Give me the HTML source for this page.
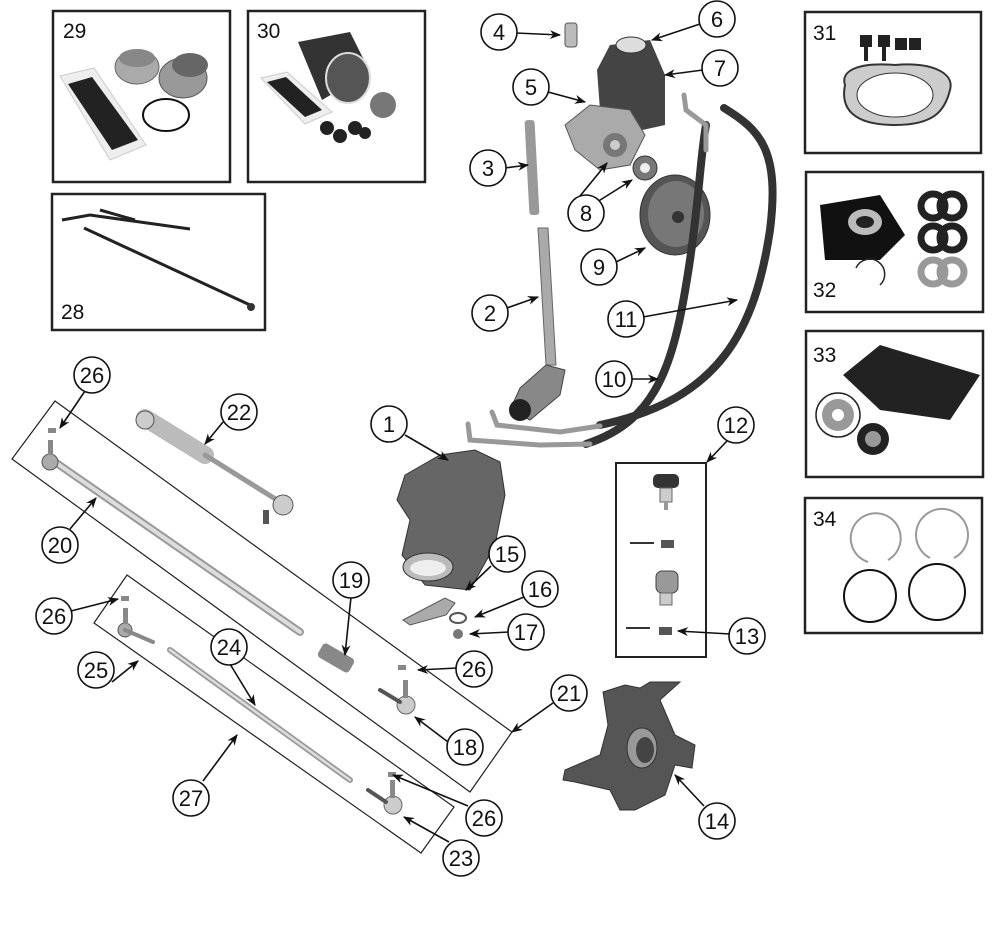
<!DOCTYPE html>
<html><head><meta charset="utf-8"><style>
html,body{margin:0;padding:0;background:#fff;}
svg{display:block}
text{font-family:"Liberation Sans",sans-serif;}
</style></head><body>
<svg width="1000" height="925" viewBox="0 0 1000 925" xmlns="http://www.w3.org/2000/svg">
<defs>
<marker id="a" viewBox="0 0 10 10" refX="9" refY="5" markerWidth="7" markerHeight="7" orient="auto-start-reverse"><path d="M0,1 L10,5 L0,9 L3,5z" fill="#111"/></marker>
<linearGradient id="g" x1="0" y1="0" x2="0" y2="1"><stop offset="0" stop-color="#bbb"/><stop offset="0.5" stop-color="#eee"/><stop offset="1" stop-color="#999"/></linearGradient>
</defs>
<g fill="none" stroke="#222" stroke-width="2.5">
<rect x="53" y="11" width="177" height="171"/>
<rect x="248" y="11" width="177" height="171"/>
<rect x="52" y="194" width="213" height="136"/>
<rect x="805" y="12" width="176" height="141"/>
<rect x="806" y="172" width="177" height="140"/>
<rect x="806" y="331" width="177" height="146"/>
<rect x="805" y="498" width="177" height="135"/>
<rect x="616" y="463" width="90" height="194" stroke-width="2"/>
</g>
<g fill="none" stroke="#222" stroke-width="1.2">
<polygon points="55,401 512,732 470,792 12,459"/>
<polygon points="127,575 454,807 421,853 94,623"/>
</g>
<g font-size="21" fill="#111">
<text x="63" y="38">29</text><text x="257" y="38">30</text><text x="61" y="319">28</text>
<text x="813" y="40">31</text><text x="813" y="297">32</text><text x="813" y="362">33</text><text x="813" y="526">34</text>
</g>
<!-- box contents -->
<g>
<polygon points="60,76 94,68 146,145 110,160" fill="#eee" stroke="#ccc"/>
<polygon points="68,84 92,77 138,140 112,150" fill="#222"/>
<ellipse cx="137" cy="67" rx="22" ry="17" fill="#aaa" stroke="#666"/><ellipse cx="137" cy="58" rx="18" ry="9" fill="#888"/>
<ellipse cx="183" cy="78" rx="24" ry="20" fill="#999" stroke="#555"/><ellipse cx="190" cy="65" rx="18" ry="12" fill="#666"/>
<ellipse cx="166" cy="115" rx="23" ry="16" fill="none" stroke="#111" stroke-width="2"/>
<polygon points="261,78 287,72 332,112 305,124" fill="#eee" stroke="#ccc"/>
<polygon points="267,82 286,77 322,110 305,117" fill="#222"/>
<polygon points="298,42 350,32 370,72 322,100" fill="#333"/><ellipse cx="348" cy="78" rx="22" ry="25" fill="#555" stroke="#ddd" stroke-width="2"/>
<ellipse cx="383" cy="105" rx="13" ry="13" fill="#777"/>
<g fill="#222"><circle cx="327" cy="128" r="7"/><circle cx="340" cy="136" r="7"/><circle cx="355" cy="128" r="7"/><circle cx="365" cy="133" r="6"/></g>
<g stroke="#222" stroke-width="3" fill="none"><path d="M62,220 L90,215 L140,222 L190,229"/><path d="M100,210 L135,220"/><path d="M84,228 L250,305"/></g>
<circle cx="251" cy="307" r="4" fill="#333"/>
<g fill="#222"><rect x="860" y="35" width="12" height="12"/><rect x="878" y="35" width="12" height="12"/><rect x="895" y="38" width="12" height="12"/><rect x="909" y="38" width="12" height="12"/><rect x="864" y="45" width="4" height="16"/><rect x="882" y="45" width="4" height="16"/></g>
<path d="M845,85 C840,70 860,62 895,65 C930,62 955,72 950,90 C945,110 935,125 895,125 C855,125 840,110 845,85z" fill="#ccc" stroke="#333" stroke-width="2"/>
<ellipse cx="895" cy="95" rx="38" ry="22" fill="#fff" stroke="#333"/>
<polygon points="820,205 880,195 905,235 880,260 825,260" fill="#111"/>
<ellipse cx="865" cy="222" rx="17" ry="13" fill="#bbb"/><ellipse cx="865" cy="222" rx="9" ry="6" fill="#222"/>
<path d="M856,268 A15,15 0 1,1 880,285" fill="none" stroke="#222" stroke-width="1.5"/>
<g fill="none" stroke-width="7"><circle cx="933" cy="206" r="12" stroke="#222"/><circle cx="952" cy="206" r="12" stroke="#222"/><circle cx="933" cy="238" r="12" stroke="#222"/><circle cx="952" cy="238" r="12" stroke="#222"/><circle cx="933" cy="272" r="12" stroke="#999"/><circle cx="952" cy="272" r="12" stroke="#999"/></g>
<polygon points="843,375 880,345 980,375 950,420 880,410" fill="#222"/>
<circle cx="838" cy="415" r="22" fill="none" stroke="#222" stroke-width="1.5"/><circle cx="838" cy="415" r="16" fill="#999"/><circle cx="838" cy="415" r="6" fill="#fff"/>
<circle cx="873" cy="439" r="16" fill="#222"/><circle cx="873" cy="439" r="8" fill="#999"/>
<g fill="none" stroke-width="2"><path d="M868,562 A25,25 0 1,1 888,560" stroke="#999"/><path d="M930,558 A26,26 0 1,1 954,558" stroke="#999"/><circle cx="870" cy="596" r="26" stroke="#111"/><circle cx="937" cy="592" r="28" stroke="#111"/></g>
<!-- ball joints box 12 -->
<rect x="653" y="474" width="26" height="14" rx="5" fill="#333"/><rect x="660" y="488" width="12" height="14" fill="#ccc" stroke="#666"/><rect x="664" y="502" width="4" height="8" fill="#999"/>
<rect x="656" y="571" width="22" height="22" rx="6" fill="#999" stroke="#444"/><rect x="660" y="593" width="12" height="12" fill="#ccc" stroke="#666"/>
<rect x="661" y="540" width="13" height="8" fill="#555"/><rect x="659" y="627" width="13" height="8" fill="#555"/>
<path d="M630,543 L654,543 M626,628 L650,628" stroke="#333" stroke-width="2"/>
</g>
<!-- pump parts -->
<g>
<rect x="565" y="23" width="12" height="24" rx="3" fill="#bbb" stroke="#555"/>
<path d="M597,70 L610,45 L650,40 L665,75 L665,125 L620,135 L600,110z" fill="#444"/>
<ellipse cx="631" cy="45" rx="15" ry="8" fill="#ddd" stroke="#333"/>
<path d="M565,125 L590,105 L630,110 L645,135 L630,165 L600,170 L575,150z" fill="#aaa" stroke="#555"/>
<circle cx="615" cy="145" r="12" fill="#777"/><circle cx="615" cy="145" r="5" fill="#ccc"/>
<circle cx="645" cy="168" r="12" fill="#777" stroke="#333"/><circle cx="645" cy="168" r="5" fill="#eee"/>
<ellipse cx="675" cy="215" rx="35" ry="40" fill="#555" stroke="#333"/><ellipse cx="676" cy="214" rx="28" ry="33" fill="#777"/>
<circle cx="678" cy="217" r="6" fill="#333"/>
<rect x="527" y="120" width="10" height="95" rx="3" fill="#999" transform="rotate(-3 532 168)"/>
<path d="M538,228 L548,228 L556,365 L546,365z" fill="#aaa" stroke="#666"/>
<path d="M546,365 L565,370 L560,395 L530,420 L510,410 L520,388z" fill="#888" stroke="#444"/>
<circle cx="520" cy="410" r="11" fill="#222"/>
</g>
<!-- hoses -->
<g fill="none" stroke-linecap="round">
<path d="M724,108 C760,130 780,150 770,230 C755,330 720,400 600,425" stroke="#333" stroke-width="8"/>
<path d="M706,125 C700,160 700,190 690,260 C675,360 660,420 586,444" stroke="#333" stroke-width="8"/>
<path d="M492,412 L497,425 L560,432 L600,426" stroke="#999" stroke-width="5"/>
<path d="M468,424 L470,440 L540,445 L590,444" stroke="#999" stroke-width="5"/>
<path d="M684,95 L686,110 L706,125 L706,150" stroke="#999" stroke-width="5"/>
</g>
<!-- gearbox -->
<path d="M405,475 L440,455 L475,450 L500,462 L505,495 L495,545 L470,590 L425,585 L402,555 L410,520 L397,500z" fill="#666" stroke="#333"/>
<ellipse cx="428" cy="567" rx="25" ry="14" fill="#bbb" stroke="#333"/><ellipse cx="428" cy="568" rx="18" ry="8" fill="#eee"/>
<!-- pitman arm etc -->
<path d="M403,620 L445,598 L455,603 L446,615 L410,625z" fill="#aaa" stroke="#555"/>
<ellipse cx="458" cy="618" rx="8" ry="5" fill="none" stroke="#555" stroke-width="2"/><circle cx="458" cy="634" r="5" fill="#777"/>
<!-- tie rods -->
<g stroke-linecap="round">
<path d="M55,462 L300,632" stroke="#999" stroke-width="8"/><path d="M55,462 L300,632" stroke="#ddd" stroke-width="4"/>
<circle cx="50" cy="462" r="8" fill="#aaa" stroke="#555"/><rect x="48" y="440" width="5" height="15" fill="#888"/>
<path d="M145,418 L205,455" stroke="#bbb" stroke-width="18"/><path d="M205,455 L285,505" stroke="#999" stroke-width="5"/>
<circle cx="145" cy="420" r="9" fill="#ccc" stroke="#555"/><circle cx="283" cy="505" r="10" fill="#ccc" stroke="#555"/><rect x="263" y="510" width="6" height="14" fill="#555"/>
<path d="M170,650 L350,780" stroke="#999" stroke-width="6"/><path d="M170,650 L350,780" stroke="#ddd" stroke-width="2.5"/>
<circle cx="125" cy="630" r="7" fill="#aaa" stroke="#555"/><path d="M125,630 L153,642" stroke="#888" stroke-width="4"/><rect x="123" y="608" width="5" height="16" fill="#888"/>
<rect x="318" y="650" width="36" height="16" rx="4" fill="#888" transform="rotate(30 336 658)"/>
<circle cx="406" cy="705" r="9" fill="#ccc" stroke="#666"/><path d="M380,690 L400,702" stroke="#555" stroke-width="4"/><rect x="403" y="680" width="5" height="18" fill="#888"/>
<circle cx="393" cy="805" r="9" fill="#ccc" stroke="#666"/><path d="M368,790 L386,802" stroke="#555" stroke-width="4"/><rect x="390" y="780" width="5" height="18" fill="#888"/>
</g>
<g fill="#888"><rect x="48" y="428" width="8" height="5"/><rect x="121" y="596" width="8" height="5"/><rect x="398" y="665" width="8" height="5"/><rect x="388" y="772" width="8" height="5"/></g>
<!-- knuckle -->
<path d="M603,692 L625,685 L640,688 L650,682 L680,682 L660,700 L675,735 L695,745 L692,768 L675,765 L665,795 L635,810 L620,810 L610,790 L575,782 L563,780 L565,770 L600,755 L608,725z" fill="#555" stroke="#333"/>
<ellipse cx="642" cy="748" rx="15" ry="20" fill="#999" stroke="#333"/><ellipse cx="645" cy="750" rx="9" ry="13" fill="#444"/>
<!-- leader lines -->
<g stroke="#111" stroke-width="1.6" fill="none" marker-end="url(#a)">
<line x1="516" y1="33" x2="560" y2="35"/>
<line x1="700" y1="24" x2="652" y2="40"/>
<line x1="703" y1="70" x2="665" y2="75"/>
<line x1="548" y1="92" x2="585" y2="102"/>
<line x1="505" y1="168" x2="528" y2="165"/>
<line x1="597" y1="202" x2="632" y2="180"/>
<line x1="580" y1="196" x2="607" y2="163"/>
<line x1="616" y1="262" x2="645" y2="248"/>
<line x1="507" y1="308" x2="538" y2="297"/>
<line x1="643" y1="317" x2="737" y2="300"/>
<line x1="631" y1="379" x2="658" y2="379"/>
<line x1="405" y1="435" x2="448" y2="460"/>
<line x1="727" y1="441" x2="707" y2="462"/>
<line x1="730" y1="634" x2="678" y2="631"/>
<line x1="491" y1="566" x2="466" y2="590"/>
<line x1="524" y1="597" x2="475" y2="617"/>
<line x1="509" y1="632" x2="470" y2="634"/>
<line x1="223" y1="422" x2="205" y2="444"/>
<line x1="85" y1="391" x2="60" y2="428"/>
<line x1="70" y1="529" x2="96" y2="498"/>
<line x1="351" y1="597" x2="345" y2="655"/>
<line x1="71" y1="611" x2="118" y2="599"/>
<line x1="230" y1="664" x2="255" y2="705"/>
<line x1="112" y1="682" x2="138" y2="661"/>
<line x1="457" y1="668" x2="418" y2="670"/>
<line x1="553" y1="703" x2="512" y2="732"/>
<line x1="448" y1="742" x2="415" y2="717"/>
<line x1="203" y1="781" x2="237" y2="735"/>
<line x1="468" y1="806" x2="393" y2="775"/>
<line x1="449" y1="842" x2="404" y2="817"/>
<line x1="704" y1="806" x2="675" y2="775"/>
</g>
<!-- callouts -->
<g font-size="22" fill="#111" text-anchor="middle">
<g fill="#fff" stroke="#111" stroke-width="1.6">
<circle cx="499" cy="32" r="18"/><circle cx="717" cy="19" r="18"/><circle cx="720" cy="68" r="18"/><circle cx="531" cy="87" r="18"/>
<circle cx="488" cy="168" r="18"/><circle cx="586" cy="213" r="18"/><circle cx="599" cy="267" r="18"/><circle cx="490" cy="313" r="18"/>
<circle cx="626" cy="319" r="18"/><circle cx="614" cy="379" r="18"/><circle cx="389" cy="424" r="18"/><circle cx="736" cy="425" r="18"/>
<circle cx="747" cy="636" r="18"/><circle cx="507" cy="554" r="18"/><circle cx="540" cy="589" r="18"/><circle cx="526" cy="632" r="18"/>
<circle cx="239" cy="412" r="18"/><circle cx="92" cy="375" r="18"/><circle cx="60" cy="545" r="18"/><circle cx="351" cy="580" r="18"/>
<circle cx="54" cy="616" r="18"/><circle cx="229" cy="647" r="18"/><circle cx="96" cy="670" r="18"/><circle cx="474" cy="669" r="18"/>
<circle cx="569" cy="693" r="18"/><circle cx="465" cy="747" r="18"/><circle cx="191" cy="798" r="18"/><circle cx="484" cy="818" r="18"/>
<circle cx="461" cy="858" r="18"/><circle cx="717" cy="821" r="18"/>
</g>
<text x="499" y="40">4</text><text x="717" y="27">6</text><text x="720" y="76">7</text><text x="531" y="95">5</text>
<text x="488" y="176">3</text><text x="586" y="221">8</text><text x="599" y="275">9</text><text x="490" y="321">2</text>
<text x="626" y="327">11</text><text x="614" y="387">10</text><text x="389" y="432">1</text><text x="736" y="433">12</text>
<text x="747" y="644">13</text><text x="507" y="562">15</text><text x="540" y="597">16</text><text x="526" y="640">17</text>
<text x="239" y="420">22</text><text x="92" y="383">26</text><text x="60" y="553">20</text><text x="351" y="588">19</text>
<text x="54" y="624">26</text><text x="229" y="655">24</text><text x="96" y="678">25</text><text x="474" y="677">26</text>
<text x="569" y="701">21</text><text x="465" y="755">18</text><text x="191" y="806">27</text><text x="484" y="826">26</text>
<text x="461" y="866">23</text><text x="717" y="829">14</text>
</g>
</svg>
</body></html>
